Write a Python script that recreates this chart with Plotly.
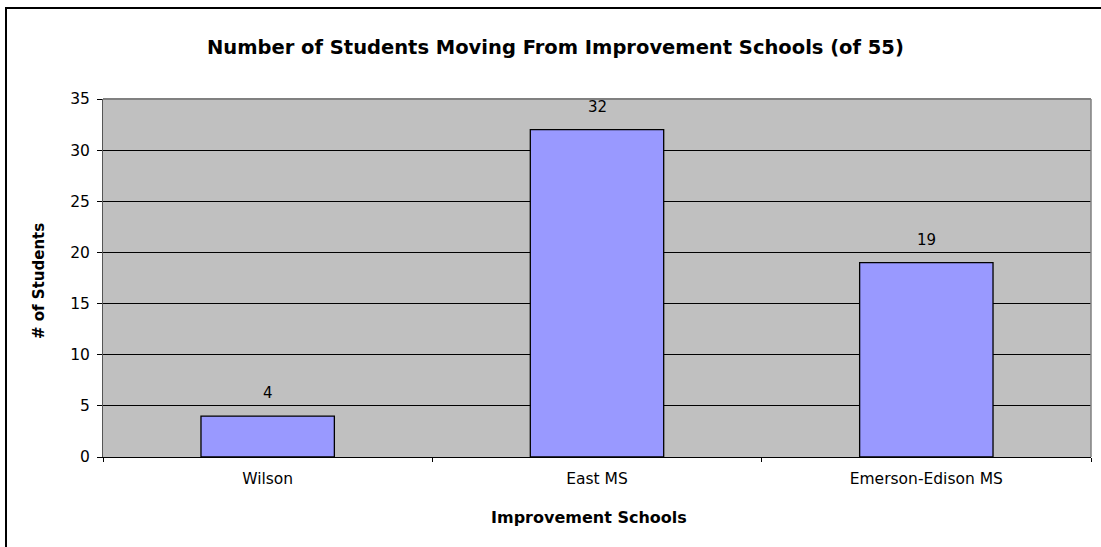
import plotly.graph_objects as go

schools = ["Wilson", "East MS", "Emerson-Edison MS"]
students = [4, 32, 19]
y_ticks = [0, 5, 10, 15, 20, 25, 30, 35]

W, H = 1101, 547
L, R, T, B = 103, 10, 99, 90
PW, PH = W - L - R, H - T - B
FONT = "DejaVu Sans, Liberation Sans, Arial"


def px_x(x):
    return (x - L) / PW


def px_y(y):
    return (H - B - y) / PH


fig = go.Figure(go.Bar(
    x=schools, y=students,
    marker=dict(color="#9999FF", line=dict(color="black", width=1.3)),
    width=0.405,
))

label_annotations = [
    dict(x=s, y=v, text=str(v), xref="x", yref="y", showarrow=False,
         yanchor="bottom", yshift=12, font=dict(size=15, family=FONT, color="black"))
    for s, v in zip(schools, students)
]

fig.update_layout(
    width=W, height=H,
    margin=dict(l=L, r=R, t=T, b=B),
    paper_bgcolor="white", plot_bgcolor="#C0C0C0",
    font=dict(family=FONT, size=15, color="black"),
    showlegend=False,
    xaxis=dict(
        showgrid=False, ticks="outside", tickson="boundaries", ticklen=4,
        tickcolor="black", showline=True, linecolor="black", linewidth=1,
        tickfont=dict(size=15.5), ticklabelstandoff=7,
    ),
    yaxis=dict(
        range=[0, 35], tickvals=y_ticks, ticks="outside", ticklen=5,
        tickcolor="black", showgrid=True, gridcolor="black", gridwidth=1,
        showline=True, linecolor="#555555", linewidth=1, zeroline=False,
        tickfont=dict(size=15.5), ticklabelstandoff=4,
    ),
    annotations=label_annotations + [
        dict(text="<b>Number of Students Moving From Improvement Schools (of 55)</b>",
             xref="paper", yref="paper", x=px_x(555), y=px_y(47),
             xanchor="center", yanchor="middle", showarrow=False,
             font=dict(size=19.5, family=FONT)),
        dict(text="<b>Improvement Schools</b>",
             xref="paper", yref="paper", x=px_x(589), y=px_y(517),
             xanchor="center", yanchor="middle", showarrow=False,
             font=dict(size=16, family=FONT)),
        dict(text="<b># of Students</b>", textangle=-90,
             xref="paper", yref="paper", x=px_x(39), y=px_y(281),
             xanchor="center", yanchor="middle", showarrow=False,
             font=dict(size=15, family=FONT)),
    ],
    shapes=[
        dict(type="rect", xref="paper", yref="paper",
             x0=px_x(6), x1=px_x(1120), y0=px_y(570), y1=px_y(8),
             line=dict(color="black", width=2), fillcolor="rgba(0,0,0,0)", layer="above"),
        dict(type="line", xref="paper", yref="paper", x0=0, x1=1, y0=1, y1=1,
             line=dict(color="#808080", width=2)),
        dict(type="line", xref="paper", yref="paper", x0=1, x1=1, y0=0, y1=1,
             line=dict(color="#808080", width=1.5)),
    ],
)

fig.write_html("out.html", config={"displayModeBar": False},
               post_script="document.body.style.margin='0px';")
